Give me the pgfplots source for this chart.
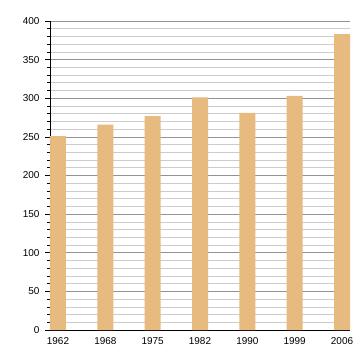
\documentclass[border=0pt]{standalone}
\usepackage{fontspec}
\setmainfont{Liberation Sans}
\usepackage{pgfplots}
\pgfplotsset{compat=1.18}
\definecolor{barcol}{RGB}{231,186,128}
\begin{document}
\begin{tikzpicture}
\path[use as bounding box] (0,0) rectangle (360bp,360bp);
\begin{axis}[
  at={(50bp,30bp)}, anchor=south west,
  scale only axis, width=300bp, height=309bp,
  xmin=-0.169, xmax=6.169,
  ymin=0, ymax=400,
  axis lines*=left,
  axis line style={-, black, line width=0.8pt},
  xtick={0,1,2,3,4,5,6},
  xticklabels={1962,1968,1975,1982,1990,1999,2006},
  x tick style={draw=none},
  ytick={0,50,...,400},
  minor y tick num=4,
  tick align=outside,
  major tick length=5bp, minor tick length=3bp,
  y tick style={black, line width=0.6pt},
  ymajorgrids, yminorgrids,
  major grid style={gray!85, line width=0.6pt},
  minor grid style={gray!40, line width=0.6pt},
  tick label style={font=\fontsize{10}{12}\selectfont},
  /pgf/number format/assume math mode=true,
  xticklabel style={yshift=1bp},
  yticklabel style={xshift=-2bp},
  axis on top=false,
  clip=false,
]
\addplot[ybar, bar width=16bp, fill=barcol, draw=none] coordinates {
(0,251) (1,266) (2,277) (3,301) (4,281) (5,303) (6,383)
};
\end{axis}
\end{tikzpicture}
\end{document}
